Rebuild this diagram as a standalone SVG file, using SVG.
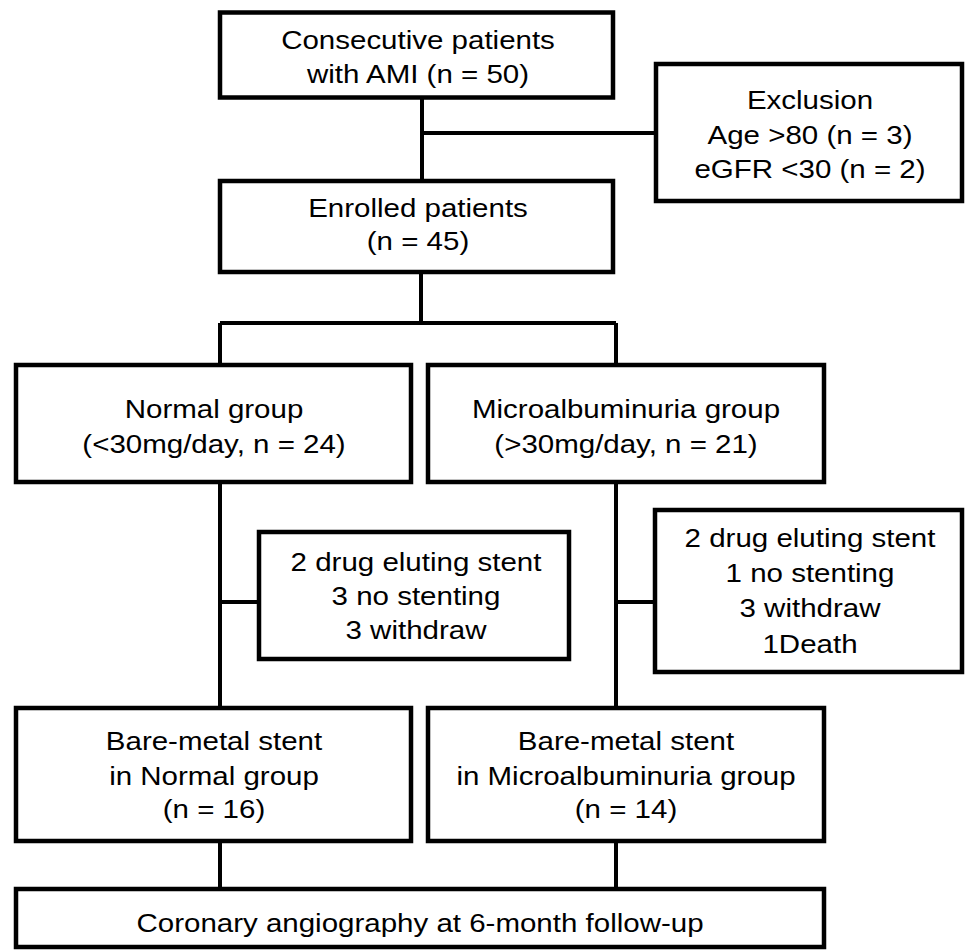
<svg xmlns="http://www.w3.org/2000/svg" width="967" height="951" viewBox="0 0 967 951">
<style>
.box{fill:#fff;stroke:#000;stroke-width:4.5}
.ln{fill:none;stroke:#000;stroke-width:4}
text{font-family:"Liberation Sans",Arial,sans-serif;font-size:25px;fill:#000;text-anchor:middle}
</style>
<rect width="967" height="951" fill="#fff"/>
<g id="connectors">
<path class="ln" d="M422 97V181M422 133H656"/>
<path class="ln" d="M421 272V323M220 323H616M220 323V365M616 323V365"/>
<path class="ln" d="M220 482V708M220 602H258"/>
<path class="ln" d="M616 482V708M616 602H654"/>
<path class="ln" d="M220 841V889M616 841V889"/>
</g>
<g id="n-consecutive">
<rect class="box" x="220" y="12.5" width="393" height="85"/>
<text transform="translate(418 0) scale(1.18 1)"><tspan x="0" y="49">Consecutive patients</tspan><tspan x="0" y="83">with AMI (n = 50)</tspan></text>
</g>
<g id="n-exclusion">
<rect class="box" x="656" y="64" width="306" height="137"/>
<text transform="translate(810 0) scale(1.18 1)"><tspan x="0" y="109">Exclusion</tspan><tspan x="0" y="144">Age &gt;80 (n = 3)</tspan><tspan x="0" y="178">eGFR &lt;30 (n = 2)</tspan></text>
</g>
<g id="n-enrolled">
<rect class="box" x="220" y="181" width="393" height="91"/>
<text transform="translate(418 0) scale(1.18 1)"><tspan x="0" y="217">Enrolled patients</tspan><tspan x="0" y="250">(n = 45)</tspan></text>
</g>
<g id="n-normal">
<rect class="box" x="16" y="365" width="395" height="117"/>
<text transform="translate(214 0) scale(1.18 1)"><tspan x="0" y="418">Normal group</tspan><tspan x="0" y="453">(&lt;30mg/day, n = 24)</tspan></text>
</g>
<g id="n-micro">
<rect class="box" x="428" y="365" width="396" height="117"/>
<text transform="translate(626 0) scale(1.18 1)"><tspan x="0" y="418">Microalbuminuria group</tspan><tspan x="0" y="453">(&gt;30mg/day, n = 21)</tspan></text>
</g>
<g id="n-excl-normal">
<rect class="box" x="259" y="532" width="310" height="127"/>
<text transform="translate(416 0) scale(1.18 1)"><tspan x="0" y="571">2 drug eluting stent</tspan><tspan x="0" y="605">3 no stenting</tspan><tspan x="0" y="639">3 withdraw</tspan></text>
</g>
<g id="n-excl-micro">
<rect class="box" x="655" y="510" width="307" height="162"/>
<text transform="translate(810 0) scale(1.18 1)"><tspan x="0" y="547">2 drug eluting stent</tspan><tspan x="0" y="582">1 no stenting</tspan><tspan x="0" y="617">3 withdraw</tspan><tspan x="0" y="653">1Death</tspan></text>
</g>
<g id="n-bms-normal">
<rect class="box" x="16" y="708" width="395" height="133"/>
<text transform="translate(214 0) scale(1.18 1)"><tspan x="0" y="750">Bare-metal stent</tspan><tspan x="0" y="785">in Normal group</tspan><tspan x="0" y="818">(n = 16)</tspan></text>
</g>
<g id="n-bms-micro">
<rect class="box" x="428" y="708" width="396" height="133"/>
<text transform="translate(626 0) scale(1.18 1)"><tspan x="0" y="750">Bare-metal stent</tspan><tspan x="0" y="785">in Microalbuminuria group</tspan><tspan x="0" y="818">(n = 14)</tspan></text>
</g>
<g id="n-followup">
<rect class="box" x="16" y="889" width="808" height="58"/>
<text transform="translate(420 0) scale(1.18 1)"><tspan x="0" y="932">Coronary angiography at 6-month follow-up</tspan></text>
</g>
</svg>
